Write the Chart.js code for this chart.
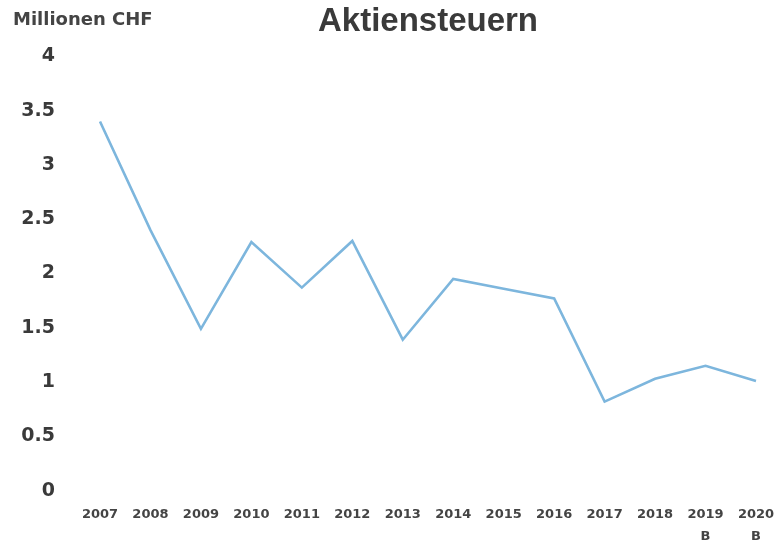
<!DOCTYPE html>
<html>
<head>
<meta charset="utf-8">
<script src="https://cdn.jsdelivr.net/npm/chart.js@4.4.1/dist/chart.umd.min.js"></script>
<style>
  html, body { margin: 0; padding: 0; background: #ffffff; overflow: hidden; }
  #wrap { width: 778px; height: 547px; position: relative; }
</style>
</head>
<body>
<div id="wrap"><canvas id="c" width="778" height="547"></canvas></div>
<script>
const categories = [
  "2007", "2008", "2009", "2010", "2011", "2012", "2013",
  "2014", "2015", "2016", "2017", "2018", ["2019", "B"], ["2020", "B"]
];
const aktiensteuern = [3.40, 2.40, 1.49, 2.29, 1.87, 2.30, 1.39, 1.95, 1.86, 1.77, 0.82, 1.03, 1.15, 1.01];
const yTicks = [0, 0.5, 1, 1.5, 2, 2.5, 3, 3.5, 4];
const titleText = "Aktiensteuern";
const unitText = "Millionen CHF";

const unitLabel = {
  id: 'unitLabel',
  afterDraw(chart) {
    const ctx = chart.ctx;
    ctx.save();
    ctx.font = 'bold 18px "DejaVu Sans"';
    ctx.fillStyle = '#444444';
    ctx.textAlign = 'left';
    ctx.textBaseline = 'alphabetic';
    ctx.fillText(unitText, 13, 25);
    ctx.restore();
  }
};

new Chart(document.getElementById('c'), {
  type: 'line',
  data: {
    labels: categories,
    datasets: [{
      label: titleText,
      data: aktiensteuern,
      borderColor: '#7db6dd',
      backgroundColor: '#7db6dd',
      borderWidth: 2.6,
      pointRadius: 0,
      tension: 0,
      fill: false
    }]
  },
  options: {
    responsive: false,
    animation: false,
    layout: { padding: { left: 0, right: 22, top: 0, bottom: 0 } },
    plugins: {
      legend: { display: false },
      tooltip: { enabled: false },
      title: {
        display: true,
        text: titleText,
        fullSize: false,
        color: '#3a3a3a',
        font: { family: '"Liberation Sans", Arial', size: 33, weight: 'bold', lineHeight: 1.2 },
        padding: { top: 2, bottom: 14.4 }
      }
    },
    scales: {
      x: {
        type: 'category',
        offset: false,
        grid: { display: false, drawTicks: false },
        border: { display: false },
        ticks: {
          color: '#444444',
          font: { family: '"DejaVu Sans"', size: 13, weight: 'bold', lineHeight: 1.69 },
          padding: 12.7,
          maxRotation: 0,
          autoSkip: false
        },
        afterFit(scale) {
          scale.height = 56;
          scale.paddingLeft = 0;
          scale.paddingRight = 0;
        }
      },
      y: {
        min: 0,
        max: 4,
        grid: { display: false, drawTicks: false },
        border: { display: false },
        afterBuildTicks(scale) { scale.ticks = yTicks.map(v => ({ value: v })); },
        ticks: {
          color: '#3a3a3a',
          font: { family: '"DejaVu Sans"', size: 19, weight: 'bold' },
          padding: 45,
          callback: (v) => String(v)
        },
        afterFit(scale) { scale.width = 100; }
      }
    }
  },
  plugins: [unitLabel]
});
</script>
</body>
</html>
